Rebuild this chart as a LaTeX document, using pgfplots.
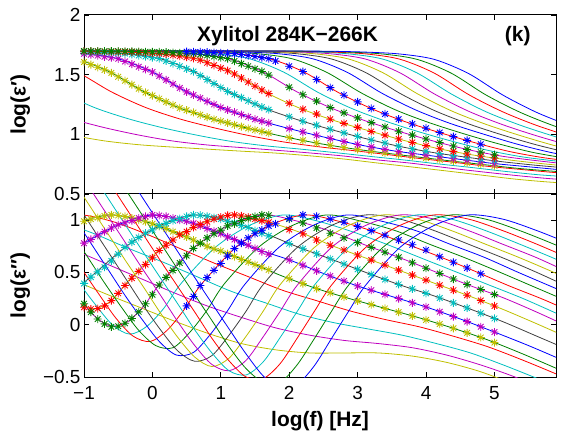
\documentclass[border=0pt]{standalone}
\usepackage{fontspec}
\setmainfont{Liberation Sans}
\usepackage{pgfplots}
\pgfplotsset{compat=1.18}
\definecolor{mb}{rgb}{0,0,1}
\definecolor{mg}{rgb}{0,0.5,0}
\definecolor{mr}{rgb}{1,0,0}
\definecolor{mc}{rgb}{0,0.75,0.75}
\definecolor{mm}{rgb}{0.75,0,0.75}
\definecolor{my}{rgb}{0.75,0.75,0}
\definecolor{mk}{rgb}{0.25,0.25,0.25}
\pgfdeclareplotmark{ast8}{%
 \pgfpathmoveto{\pgfqpoint{0pt}{\pgfplotmarksize}}\pgfpathlineto{\pgfqpoint{0pt}{-\pgfplotmarksize}}%
 \pgfpathmoveto{\pgfqpoint{\pgfplotmarksize}{0pt}}\pgfpathlineto{\pgfqpoint{-\pgfplotmarksize}{0pt}}%
 \pgfpathmoveto{\pgfqpoint{0.707\pgfplotmarksize}{0.707\pgfplotmarksize}}\pgfpathlineto{\pgfqpoint{-0.707\pgfplotmarksize}{-0.707\pgfplotmarksize}}%
 \pgfpathmoveto{\pgfqpoint{0.707\pgfplotmarksize}{-0.707\pgfplotmarksize}}\pgfpathlineto{\pgfqpoint{-0.707\pgfplotmarksize}{0.707\pgfplotmarksize}}%
 \pgfusepathqstroke}
\pgfplotsset{
 ln/.style={smooth, line width=0.8bp, mark=none},
 dm/.style={only marks, mark=ast8, mark size=4bp, mark options={line width=0.85bp}},
 base/.style={scale only axis, width=472bp, xmin=-1, xmax=5.9, xtick={-1,0,1,2,3,4,5},
   tick align=inside, major tick length=5bp, axis line style={line width=1bp},
   every tick/.style={black, line width=0.8bp},
   ticklabel style={font=\fontsize{19}{22}\selectfont},
   xticklabel style={yshift=-6bp},
   every axis y label/.style={at={(axis description cs:-0.135,0.5)}, rotate=90, anchor=center, font=\bfseries\fontsize{21}{24}\selectfont},
   every axis x label/.style={at={(axis description cs:0.5,-0.24)}, anchor=center, font=\bfseries\fontsize{21}{24}\selectfont}}
}
\begin{document}
\begin{tikzpicture}[x=1bp,y=1bp]
\useasboundingbox (-84,15) rectangle (479,-421);
% ================= TOP: log eps' =================
\begin{axis}[base, name=top, at={(0,0)}, anchor=north west, height=179bp,
  ymin=0.5, ymax=2, ytick={0.5,1,1.5,2}, yticklabels={0.5,1,1.5,2}, xticklabels={},
  ylabel={log(ε′)}]
% data
\addplot[dm, my] coordinates {(-1.0,1.606) (-0.9,1.584) (-0.8,1.562) (-0.7,1.540) (-0.6,1.515) (-0.5,1.482) (-0.4,1.449) (-0.3,1.416) (-0.2,1.382) (-0.1,1.351) (0,1.325) (0.1,1.299) (0.2,1.272) (0.3,1.246) (0.4,1.221) (0.5,1.202) (0.6,1.183) (0.7,1.164) (0.8,1.144) (0.9,1.126) (1.0,1.111) (1.1,1.096) (1.2,1.080) (1.3,1.065) (1.4,1.050) (1.5,1.037) (1.6,1.024) (1.7,1.010) (2.0,0.972) (2.2,0.950) (2.4,0.927) (2.6,0.909) (2.8,0.890) (3.0,0.874) (3.2,0.859) (3.4,0.844) (3.6,0.830) (3.8,0.816) (4.0,0.802) (4.2,0.788) (4.4,0.775) (4.6,0.762) (4.8,0.749) (5.0,0.737)};
\addplot[dm, mm] coordinates {(-1.0,1.676) (-0.9,1.667) (-0.8,1.659) (-0.7,1.650) (-0.6,1.642) (-0.5,1.633) (-0.4,1.611) (-0.3,1.589) (-0.2,1.566) (-0.1,1.544) (0,1.522) (0.1,1.489) (0.2,1.456) (0.3,1.422) (0.4,1.389) (0.5,1.356) (0.6,1.330) (0.7,1.304) (0.8,1.277) (0.9,1.251) (1.0,1.225) (1.1,1.205) (1.2,1.186) (1.3,1.166) (1.4,1.147) (1.5,1.127) (1.6,1.111) (1.7,1.095) (2.0,1.048) (2.2,1.020) (2.4,0.992) (2.6,0.965) (2.8,0.940) (3.0,0.915) (3.2,0.895) (3.4,0.874) (3.6,0.856) (3.8,0.841) (4.0,0.826) (4.2,0.812) (4.4,0.797) (4.6,0.783) (4.8,0.769) (5.0,0.755)};
\addplot[dm, mc] coordinates {(-1.0,1.691) (-0.9,1.690) (-0.8,1.688) (-0.7,1.686) (-0.6,1.684) (-0.5,1.681) (-0.4,1.677) (-0.3,1.669) (-0.2,1.660) (-0.1,1.652) (0,1.643) (0.1,1.635) (0.2,1.615) (0.3,1.593) (0.4,1.571) (0.5,1.549) (0.6,1.526) (0.7,1.492) (0.8,1.459) (0.9,1.425) (1.0,1.392) (1.1,1.359) (1.2,1.334) (1.3,1.308) (1.4,1.281) (1.5,1.255) (1.6,1.228) (1.7,1.207) (2.0,1.147) (2.2,1.110) (2.4,1.076) (2.6,1.042) (2.8,1.012) (3.0,0.982) (3.2,0.953) (3.4,0.927) (3.6,0.901) (3.8,0.879) (4.0,0.858) (4.2,0.840) (4.4,0.824) (4.6,0.808) (4.8,0.793) (5.0,0.779)};
\addplot[dm, mr] coordinates {(-1.0,1.697) (-0.9,1.696) (-0.8,1.695) (-0.7,1.694) (-0.6,1.693) (-0.5,1.692) (-0.4,1.691) (-0.3,1.689) (-0.2,1.686) (-0.1,1.683) (0,1.680) (0.1,1.677) (0.2,1.672) (0.3,1.663) (0.4,1.655) (0.5,1.646) (0.6,1.637) (0.7,1.622) (0.8,1.600) (0.9,1.578) (1.0,1.555) (1.1,1.533) (1.2,1.505) (1.3,1.472) (1.4,1.438) (1.5,1.404) (1.6,1.371) (1.7,1.341) (2.0,1.260) (2.2,1.210) (2.4,1.169) (2.6,1.127) (2.8,1.092) (3.0,1.058) (3.2,1.024) (3.4,0.993) (3.6,0.961) (3.8,0.932) (4.0,0.905) (4.2,0.879) (4.4,0.857) (4.6,0.835) (4.8,0.818) (5.0,0.802)};
\addplot[dm, mg] coordinates {(-1.0,1.698) (-0.9,1.698) (-0.8,1.698) (-0.7,1.697) (-0.6,1.697) (-0.5,1.697) (-0.4,1.696) (-0.3,1.695) (-0.2,1.694) (-0.1,1.692) (0,1.691) (0.1,1.690) (0.2,1.688) (0.3,1.685) (0.4,1.682) (0.5,1.679) (0.6,1.676) (0.7,1.669) (0.8,1.661) (0.9,1.652) (1.0,1.643) (1.1,1.635) (1.2,1.614) (1.3,1.593) (1.4,1.571) (1.5,1.549) (1.6,1.527) (1.7,1.496) (2.0,1.394) (2.2,1.332) (2.4,1.278) (2.6,1.224) (2.8,1.180) (3.0,1.138) (3.2,1.098) (3.4,1.062) (3.6,1.026) (3.8,0.993) (4.0,0.961) (4.2,0.931) (4.4,0.902) (4.6,0.874) (4.8,0.851) (5.0,0.829)};
\addplot[dm, mb] coordinates {(0.5,1.693) (0.6,1.691) (0.7,1.690) (0.8,1.688) (0.9,1.685) (1.0,1.682) (1.1,1.679) (1.2,1.676) (1.3,1.669) (1.4,1.660) (1.5,1.652) (1.6,1.643) (1.7,1.634) (1.8,1.615) (2.0,1.570) (2.2,1.526) (2.4,1.459) (2.6,1.391) (2.8,1.328) (3.0,1.272) (3.2,1.217) (3.4,1.171) (3.6,1.127) (3.8,1.087) (4.0,1.051) (4.2,1.015) (4.4,0.981) (4.6,0.949) (4.8,0.917)};
% lines
\addplot[ln, my] coordinates {(-1.2,0.994) (-0.7,0.945) (-0.2,0.913) (0.3,0.893) (0.8,0.876) (1.3,0.859) (1.8,0.843) (2.3,0.820) (2.8,0.793) (3.3,0.759) (3.8,0.726) (4.3,0.693) (4.8,0.659) (5.3,0.625) (5.8,0.600) (6.3,0.583)};
\addplot[ln, mm] coordinates {(-1.2,1.130) (-0.7,1.056) (-0.2,0.994) (0.3,0.944) (0.8,0.911) (1.3,0.889) (1.8,0.867) (2.3,0.844) (2.8,0.818) (3.3,0.785) (3.8,0.757) (4.3,0.720) (4.8,0.687) (5.3,0.656) (5.8,0.629) (6.3,0.610)};
\addplot[ln, mc] coordinates {(-1.35,1.356) (-0.85,1.225) (-0.35,1.130) (0.15,1.055) (0.65,0.993) (1.15,0.941) (1.65,0.904) (2.15,0.877) (2.65,0.848) (3.15,0.817) (3.65,0.787) (4.15,0.754) (4.65,0.723) (5.15,0.690) (5.65,0.661) (6.15,0.642)};
\addplot[ln, mr] coordinates {(-1.6,1.633) (-1.1,1.522) (-0.6,1.356) (-0.1,1.225) (0.4,1.129) (0.9,1.055) (1.4,0.991) (1.9,0.938) (2.4,0.898) (2.9,0.866) (3.4,0.833) (3.9,0.798) (4.4,0.766) (4.9,0.732) (5.4,0.705) (5.9,0.679) (6.4,0.662)};
\addplot[ln, mg] coordinates {(-1.62,1.676) (-1.12,1.633) (-0.62,1.522) (-0.12,1.356) (0.38,1.225) (0.88,1.129) (1.38,1.053) (1.88,0.986) (2.38,0.929) (2.88,0.883) (3.38,0.845) (3.88,0.810) (4.38,0.776) (4.88,0.744) (5.38,0.713) (5.88,0.690) (6.38,0.670)};
\addplot[ln, mb] coordinates {(-1.5,1.690) (-1.0,1.676) (-0.5,1.633) (0,1.522) (0.5,1.356) (1.0,1.225) (1.5,1.127) (2.0,1.048) (2.5,0.978) (3.0,0.915) (3.5,0.864) (4.0,0.826) (4.5,0.790) (5.0,0.755) (5.5,0.728) (6.0,0.701)};
\addplot[ln, mk] coordinates {(-1.38,1.696) (-0.88,1.690) (-0.38,1.676) (0.12,1.633) (0.62,1.522) (1.12,1.355) (1.62,1.223) (2.12,1.123) (2.62,1.039) (3.12,0.964) (3.62,0.898) (4.12,0.846) (4.62,0.806) (5.12,0.770) (5.62,0.740) (6.12,0.715)};
\addplot[ln, my] coordinates {(-1.35,1.698) (-0.85,1.696) (-0.35,1.690) (0.15,1.676) (0.65,1.633) (1.15,1.522) (1.65,1.354) (2.15,1.220) (2.65,1.117) (3.15,1.032) (3.65,0.953) (4.15,0.884) (4.65,0.830) (5.15,0.790) (5.65,0.757) (6.15,0.729)};
\addplot[ln, mm] coordinates {(-1.38,1.699) (-0.88,1.698) (-0.38,1.696) (0.12,1.690) (0.62,1.676) (1.12,1.633) (1.62,1.522) (2.12,1.354) (2.62,1.219) (3.12,1.112) (3.62,1.022) (4.12,0.942) (4.62,0.871) (5.12,0.816) (5.62,0.779) (6.12,0.748)};
\addplot[ln, mc] coordinates {(-1.58,1.699) (-1.08,1.698) (-0.58,1.698) (-0.08,1.696) (0.42,1.690) (0.92,1.676) (1.42,1.633) (1.92,1.521) (2.42,1.352) (2.92,1.215) (3.42,1.108) (3.92,1.017) (4.42,0.936) (4.92,0.864) (5.42,0.810) (5.92,0.775)};
\addplot[ln, mr] coordinates {(-1.28,1.699) (-0.78,1.699) (-0.28,1.698) (0.22,1.696) (0.72,1.690) (1.22,1.676) (1.72,1.633) (2.22,1.521) (2.72,1.350) (3.22,1.211) (3.72,1.101) (4.22,1.011) (4.72,0.929) (5.22,0.856) (5.72,0.804) (6.22,0.769)};
\addplot[ln, mg] coordinates {(-1.45,1.699) (-0.95,1.699) (-0.45,1.699) (0.05,1.698) (0.55,1.696) (1.05,1.690) (1.55,1.675) (2.05,1.632) (2.55,1.519) (3.05,1.348) (3.55,1.206) (4.05,1.097) (4.55,1.005) (5.05,0.922) (5.55,0.850) (6.05,0.799)};
\addplot[ln, mb] coordinates {(-1.15,1.699) (-0.65,1.699) (-0.15,1.699) (0.35,1.698) (0.85,1.696) (1.35,1.690) (1.85,1.675) (2.35,1.632) (2.85,1.519) (3.35,1.346) (3.85,1.204) (4.35,1.092) (4.85,1.000) (5.35,0.915) (5.85,0.845) (6.35,0.795)};
\addplot[ln, mk] coordinates {(-1.38,1.699) (-0.88,1.699) (-0.38,1.699) (0.12,1.699) (0.62,1.698) (1.12,1.696) (1.62,1.690) (2.12,1.675) (2.62,1.631) (3.12,1.517) (3.62,1.343) (4.12,1.200) (4.62,1.088) (5.12,0.994) (5.62,0.911) (6.12,0.841)};
\addplot[ln, my] coordinates {(-1.13,1.699) (-0.63,1.699) (-0.13,1.699) (0.37,1.699) (0.87,1.698) (1.37,1.696) (1.87,1.690) (2.37,1.675) (2.87,1.631) (3.37,1.516) (3.87,1.341) (4.37,1.197) (4.87,1.085) (5.37,0.991) (5.87,0.907) (6.37,0.838)};
\addplot[ln, mm] coordinates {(-1.38,1.699) (-0.88,1.699) (-0.38,1.699) (0.12,1.699) (0.62,1.699) (1.12,1.698) (1.62,1.696) (2.12,1.690) (2.62,1.674) (3.12,1.630) (3.62,1.515) (4.12,1.339) (4.62,1.194) (5.12,1.081) (5.62,0.987) (6.12,0.904)};
\addplot[ln, mc] coordinates {(-1.13,1.699) (-0.63,1.699) (-0.13,1.699) (0.37,1.699) (0.87,1.699) (1.37,1.698) (1.87,1.696) (2.37,1.690) (2.87,1.674) (3.37,1.630) (3.87,1.514) (4.37,1.338) (4.87,1.191) (5.37,1.078) (5.87,0.984) (6.37,0.901)};
\addplot[ln, mr] coordinates {(-1.38,1.699) (-0.88,1.699) (-0.38,1.699) (0.12,1.699) (0.62,1.699) (1.12,1.699) (1.62,1.698) (2.12,1.696) (2.62,1.689) (3.12,1.674) (3.62,1.629) (4.12,1.513) (4.62,1.334) (5.12,1.189) (5.62,1.074) (6.12,0.980)};
\addplot[ln, mg] coordinates {(-1.13,1.699) (-0.63,1.699) (-0.13,1.699) (0.37,1.699) (0.87,1.699) (1.37,1.699) (1.87,1.698) (2.37,1.696) (2.87,1.689) (3.37,1.673) (3.87,1.628) (4.37,1.512) (4.87,1.332) (5.37,1.186) (5.87,1.071) (6.37,0.977)};
\addplot[ln, mb] coordinates {(-1.38,1.699) (-0.88,1.699) (-0.38,1.699) (0.12,1.699) (0.62,1.699) (1.12,1.699) (1.62,1.699) (2.12,1.698) (2.62,1.696) (3.12,1.689) (3.62,1.673) (4.12,1.628) (4.62,1.510) (5.12,1.330) (5.62,1.183) (6.12,1.068)};
\node[font=\bfseries\fontsize{21}{24}\selectfont, anchor=base] at (axis cs:1.975,1.78) {Xylitol 284K−266K};
\node[font=\bfseries\fontsize{21}{24}\selectfont, anchor=base] at (axis cs:5.34,1.78) {(k)};
\end{axis}
% ================= BOTTOM: log eps'' =================
\begin{axis}[base, at={(top.south west)}, anchor=north west, height=183bp,
  ymin=-0.5, ymax=1.25, ytick={-0.5,0,0.5,1}, yticklabels={−0.5,0,0.5,1},
  xticklabels={−1,0,1,2,3,4,5},
  ylabel={log(ε″)}, xlabel={log(f) [Hz]}]
% data
\addplot[dm, my] coordinates {(-1.0,0.99) (-0.9,1.01) (-0.8,1.025) (-0.7,1.04) (-0.6,1.05) (-0.5,1.045) (-0.4,1.035) (-0.3,1.02) (-0.2,1.00) (-0.1,0.985) (0,0.965) (0.1,0.94) (0.2,0.92) (0.3,0.89) (0.4,0.865) (0.5,0.84) (0.6,0.81) (0.7,0.78) (0.8,0.75) (0.9,0.725) (1.0,0.705) (1.1,0.68) (1.2,0.652) (1.3,0.625) (1.4,0.60) (1.5,0.575) (1.6,0.55) (1.7,0.525) (2.0,0.44) (2.2,0.393) (2.4,0.346) (2.6,0.306) (2.8,0.266) (3.0,0.228) (3.2,0.192) (3.4,0.156) (3.6,0.12) (3.8,0.084) (4.0,0.046) (4.2,0.006) (4.4,-0.034) (4.6,-0.078) (4.8,-0.122) (5.0,-0.171)};
\addplot[dm, mm] coordinates {(-1.0,0.78) (-0.9,0.815) (-0.8,0.855) (-0.7,0.89) (-0.6,0.925) (-0.5,0.955) (-0.4,0.975) (-0.3,0.995) (-0.2,1.02) (-0.1,1.035) (0,1.05) (0.1,1.045) (0.2,1.035) (0.3,1.02) (0.4,1.00) (0.5,0.99) (0.6,0.97) (0.7,0.945) (0.8,0.92) (0.9,0.895) (1.0,0.87) (1.1,0.84) (1.2,0.815) (1.3,0.785) (1.4,0.76) (1.5,0.73) (1.6,0.70) (1.7,0.675) (2.0,0.62) (2.2,0.568) (2.4,0.516) (2.6,0.466) (2.8,0.418) (3.0,0.37) (3.2,0.33) (3.4,0.29) (3.6,0.25) (3.8,0.21) (4.0,0.17) (4.2,0.124) (4.4,0.078) (4.6,0.03) (4.8,-0.02) (5.0,-0.07)};
\addplot[dm, mc] coordinates {(-1.0,0.395) (-0.9,0.455) (-0.8,0.505) (-0.7,0.55) (-0.6,0.61) (-0.5,0.675) (-0.4,0.74) (-0.3,0.79) (-0.2,0.835) (-0.1,0.875) (0,0.907) (0.1,0.947) (0.2,0.969) (0.3,0.995) (0.4,1.015) (0.5,1.035) (0.6,1.05) (0.7,1.047) (0.8,1.037) (0.9,1.025) (1.0,1.01) (1.1,0.99) (1.2,0.975) (1.3,0.95) (1.4,0.93) (1.5,0.90) (1.6,0.875) (1.7,0.85) (2.0,0.775) (2.2,0.726) (2.4,0.678) (2.6,0.63) (2.8,0.58) (3.0,0.53) (3.2,0.48) (3.4,0.433) (3.6,0.385) (3.8,0.342) (4.0,0.30) (4.2,0.256) (4.4,0.208) (4.6,0.16) (4.8,0.11) (5.0,0.06)};
\addplot[dm, mr] coordinates {(-1.0,0.167) (-0.9,0.15) (-0.8,0.155) (-0.7,0.18) (-0.6,0.23) (-0.5,0.30) (-0.4,0.375) (-0.3,0.445) (-0.2,0.51) (-0.1,0.575) (0,0.64) (0.1,0.71) (0.2,0.76) (0.3,0.81) (0.4,0.86) (0.5,0.89) (0.6,0.93) (0.7,0.96) (0.8,0.985) (0.9,1.01) (1.0,1.03) (1.1,1.045) (1.2,1.05) (1.3,1.04) (1.4,1.03) (1.5,1.01) (1.6,0.995) (1.7,0.98) (2.0,0.91) (2.2,0.87) (2.4,0.81) (2.6,0.76) (2.8,0.714) (3.0,0.666) (3.2,0.618) (3.4,0.57) (3.6,0.522) (3.8,0.474) (4.0,0.426) (4.2,0.378) (4.4,0.33) (4.6,0.282) (4.8,0.231) (5.0,0.179)};
\addplot[dm, mg] coordinates {(-1.0,0.20) (-0.9,0.12) (-0.8,0.054) (-0.7,0.008) (-0.6,-0.02) (-0.5,-0.015) (-0.4,0.014) (-0.3,0.06) (-0.2,0.123) (-0.1,0.20) (0,0.287) (0.1,0.38) (0.2,0.453) (0.3,0.52) (0.4,0.59) (0.5,0.66) (0.6,0.73) (0.7,0.78) (0.8,0.83) (0.9,0.87) (1.0,0.905) (1.1,0.945) (1.2,0.965) (1.3,0.995) (1.4,1.015) (1.5,1.035) (1.6,1.05) (1.7,1.047) (2.0,1.01) (2.2,0.973) (2.4,0.925) (2.6,0.875) (2.8,0.83) (3.0,0.786) (3.2,0.74) (3.4,0.693) (3.6,0.645) (3.8,0.593) (4.0,0.54) (4.2,0.49) (4.4,0.437) (4.6,0.385) (4.8,0.337) (5.0,0.289)};
\addplot[dm, mb] coordinates {(0.5,0.18) (0.6,0.27) (0.7,0.375) (0.8,0.45) (0.9,0.52) (1.0,0.585) (1.1,0.656) (1.2,0.728) (1.3,0.78) (1.4,0.83) (1.5,0.87) (1.6,0.905) (1.7,0.945) (1.8,0.965) (2.0,1.015) (2.2,1.05) (2.4,1.037) (2.6,1.01) (2.8,0.98) (3.0,0.94) (3.2,0.90) (3.4,0.855) (3.6,0.81) (3.8,0.765) (4.0,0.715) (4.2,0.65) (4.4,0.597) (4.6,0.543) (4.8,0.487)};
% lines
\addplot[ln, my] coordinates {(-1.2,0.44) (-0.7,0.30) (-0.2,0.17) (0.3,0.04) (0.8,-0.08) (1.3,-0.18) (1.8,-0.24) (2.3,-0.27) (2.8,-0.27) (3.3,-0.27) (3.8,-0.30) (4.3,-0.36) (4.8,-0.45) (5.3,-0.575) (5.8,-0.72)};
\addplot[ln, mm] coordinates {(-1.2,0.73) (-0.7,0.59) (-0.2,0.45) (0.3,0.31) (0.8,0.18) (1.3,0.07) (1.8,-0.03) (2.3,-0.10) (2.8,-0.15) (3.3,-0.18) (3.8,-0.22) (4.3,-0.29) (4.8,-0.385) (5.3,-0.50) (5.8,-0.64)};
\addplot[ln, mc] coordinates {(-1.35,0.99) (-0.85,0.87) (-0.35,0.73) (0.15,0.60) (0.65,0.46) (1.15,0.32) (1.65,0.21) (2.15,0.10) (2.65,0.02) (3.15,-0.04) (3.65,-0.10) (4.15,-0.18) (4.65,-0.27) (5.15,-0.39) (5.65,-0.52) (6.15,-0.65)};
\addplot[ln, mr] coordinates {(-1.6,0.95) (-1.1,1.05) (-0.6,0.99) (-0.1,0.87) (0.4,0.73) (0.9,0.59) (1.4,0.46) (1.9,0.33) (2.4,0.23) (2.9,0.13) (3.4,0.05) (3.9,-0.02) (4.4,-0.11) (4.9,-0.21) (5.4,-0.335) (5.9,-0.47) (6.4,-0.61)};
\addplot[ln, mg] coordinates {(-1.62,0.84) (-1.12,0.97) (-0.62,1.05) (-0.12,0.99) (0.38,0.87) (0.88,0.73) (1.38,0.61) (1.88,0.47) (2.38,0.35) (2.88,0.25) (3.38,0.16) (3.88,0.07) (4.38,-0.03) (4.88,-0.14) (5.38,-0.27) (5.88,-0.41) (6.38,-0.55)};
\addplot[ln, mb] coordinates {(-1.5,0.59) (-1.0,0.78) (-0.5,0.955) (0,1.05) (0.5,0.99) (1.0,0.87) (1.5,0.73) (2.0,0.62) (2.5,0.49) (3.0,0.37) (3.5,0.27) (4.0,0.17) (4.5,0.055) (5.0,-0.07) (5.5,-0.20) (6.0,-0.34)};
\addplot[ln, mk] coordinates {(-1.63,0.52) (-1.38,0.375) (-1.13,0.35) (-0.88,0.47) (-0.38,0.75) (0.12,0.95) (0.62,1.05) (1.12,0.99) (1.62,0.88) (2.12,0.745) (2.62,0.625) (3.12,0.50) (3.62,0.38) (4.12,0.275) (4.62,0.156) (5.12,0.03) (5.62,-0.11) (6.12,-0.25)};
\addplot[ln, my] coordinates {(-1.6,0.6) (-1.35,0.38) (-1.1,0.21) (-0.85,0.15) (-0.6,0.23) (-0.35,0.42) (0.15,0.745) (0.65,0.95) (1.15,1.05) (1.65,0.99) (2.15,0.885) (2.65,0.75) (3.15,0.63) (3.65,0.51) (4.15,0.39) (4.65,0.27) (5.15,0.14) (5.65,0.0) (6.15,-0.145)};
\addplot[ln, mm] coordinates {(-1.38,0.54) (-1.13,0.31) (-0.88,0.105) (-0.63,-0.01) (-0.38,0.02) (-0.13,0.175) (0.12,0.40) (0.62,0.745) (1.12,0.95) (1.62,1.05) (2.12,0.99) (2.62,0.89) (3.12,0.76) (3.62,0.64) (4.12,0.51) (4.62,0.38) (5.12,0.26) (5.62,0.12) (6.12,-0.03)};
\addplot[ln, mc] coordinates {(-1.58,0.91) (-1.08,0.41) (-0.83,0.19) (-0.58,-0.004) (-0.33,-0.09) (-0.08,-0.015) (0.17,0.16) (0.42,0.395) (0.92,0.74) (1.42,0.95) (1.92,1.05) (2.42,0.99) (2.92,0.89) (3.42,0.77) (3.92,0.64) (4.42,0.51) (4.92,0.38) (5.42,0.25) (5.92,0.105)};
\addplot[ln, mr] coordinates {(-1.28,0.78) (-1.03,0.53) (-0.78,0.29) (-0.53,0.06) (-0.28,-0.11) (-0.03,-0.16) (0.22,-0.05) (0.47,0.15) (0.72,0.39) (1.22,0.74) (1.72,0.95) (2.22,1.05) (2.72,0.99) (3.22,0.895) (3.72,0.77) (4.22,0.645) (4.72,0.51) (5.22,0.37) (5.72,0.24) (6.22,0.095)};
\addplot[ln, mg] coordinates {(-1.45,1.15) (-0.95,0.65) (-0.7,0.40) (-0.45,0.165) (-0.2,-0.054) (0.05,-0.20) (0.3,-0.22) (0.55,-0.07) (0.8,0.14) (1.05,0.39) (1.55,0.74) (2.05,0.95) (2.55,1.05) (3.05,0.99) (3.55,0.90) (4.05,0.77) (4.55,0.645) (5.05,0.51) (5.55,0.37) (6.05,0.23)};
\addplot[ln, mb] coordinates {(-1.15,1.03) (-0.9,0.78) (-0.65,0.53) (-0.4,0.28) (-0.15,0.05) (0.1,-0.16) (0.35,-0.29) (0.6,-0.265) (0.85,-0.09) (1.1,0.135) (1.35,0.385) (1.85,0.74) (2.35,0.95) (2.85,1.05) (3.35,0.99) (3.85,0.90) (4.35,0.77) (4.85,0.645) (5.35,0.50) (5.85,0.36) (6.35,0.22)};
\addplot[ln, mk] coordinates {(-1.38,1.43) (-0.88,0.93) (-0.63,0.68) (-0.38,0.43) (-0.13,0.18) (0.12,-0.05) (0.37,-0.25) (0.62,-0.35) (0.87,-0.295) (1.12,-0.10) (1.37,0.13) (1.62,0.385) (2.12,0.74) (2.62,0.95) (3.12,1.05) (3.62,1.01) (4.12,0.90) (4.62,0.77) (5.12,0.64) (5.62,0.50) (6.12,0.35)};
\addplot[ln, my] coordinates {(-1.13,1.35) (-0.63,0.85) (-0.38,0.60) (-0.13,0.36) (0.12,0.11) (0.37,-0.12) (0.62,-0.31) (0.87,-0.40) (1.12,-0.32) (1.37,-0.11) (1.62,0.13) (1.87,0.385) (2.37,0.74) (2.87,0.95) (3.37,1.05) (3.87,1.01) (4.37,0.90) (4.87,0.77) (5.37,0.64) (5.87,0.50) (6.37,0.35)};
\addplot[ln, mm] coordinates {(-1.38,1.77) (-0.88,1.27) (-0.38,0.77) (-0.13,0.52) (0.12,0.28) (0.37,0.03) (0.62,-0.20) (0.87,-0.38) (1.12,-0.44) (1.37,-0.34) (1.62,-0.115) (1.87,0.13) (2.12,0.38) (2.62,0.74) (3.12,0.95) (3.62,1.05) (4.12,1.01) (4.62,0.90) (5.12,0.77) (5.62,0.64) (6.12,0.49)};
\addplot[ln, mc] coordinates {(-1.13,1.69) (-0.63,1.19) (-0.13,0.69) (0.37,0.20) (0.62,-0.05) (0.87,-0.27) (1.12,-0.44) (1.37,-0.48) (1.62,-0.355) (1.87,-0.12) (2.12,0.13) (2.37,0.38) (2.87,0.74) (3.37,0.95) (3.87,1.05) (4.37,1.01) (4.87,0.90) (5.37,0.77) (5.87,0.635) (6.37,0.49)};
\addplot[ln, mr] coordinates {(-0.88,1.61) (-0.38,1.11) (0.12,0.61) (0.62,0.12) (0.87,-0.13) (1.12,-0.345) (1.37,-0.50) (1.62,-0.515) (1.87,-0.37) (2.12,-0.125) (2.37,0.13) (2.62,0.38) (3.12,0.74) (3.62,0.95) (4.12,1.05) (4.62,1.01) (5.12,0.90) (5.62,0.77) (6.12,0.63)};
\addplot[ln, mg] coordinates {(-0.63,1.53) (-0.13,1.03) (0.37,0.53) (0.87,0.04) (1.12,-0.21) (1.37,-0.42) (1.62,-0.55) (1.87,-0.55) (2.12,-0.38) (2.37,-0.13) (2.62,0.13) (2.87,0.38) (3.37,0.74) (3.87,0.95) (4.37,1.05) (4.87,1.01) (5.37,0.90) (5.87,0.77) (6.37,0.63)};
\addplot[ln, mb] coordinates {(-0.38,1.45) (0.12,0.95) (0.62,0.45) (1.12,-0.04) (1.37,-0.28) (1.62,-0.49) (1.87,-0.61) (2.12,-0.57) (2.37,-0.39) (2.62,-0.13) (2.87,0.13) (3.12,0.38) (3.62,0.74) (4.12,0.95) (4.62,1.05) (5.12,1.01) (5.62,0.90) (6.12,0.77)};
\end{axis}
\end{tikzpicture}
\end{document}
